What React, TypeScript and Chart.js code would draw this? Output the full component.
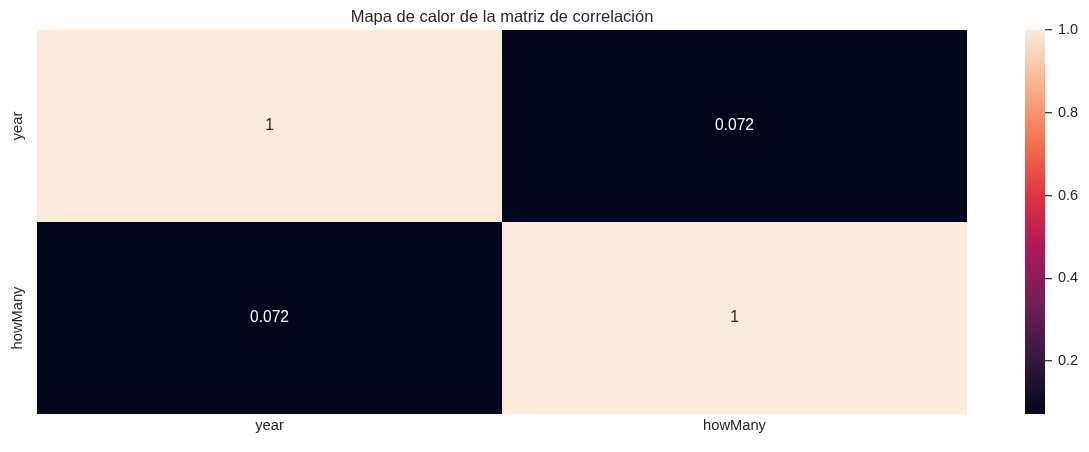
import React, { useEffect, useRef } from "react";
import { Chart, registerables } from "chart.js";

Chart.register(...registerables);

const title = "Mapa de calor de la matriz de correlación";
const xLabels = ["year", "howMany"];
const yLabels = ["year", "howMany"];
const corrYear = [1, 0.072];
const corrHowMany = [0.072, 1];
const corrRows = [corrYear, corrHowMany];
const colorbarTicks = [0.2, 0.4, 0.6, 0.8, 1.0];

// seaborn "rocket" colormap stops
const rocketStops: [number, string][] = [
  [0.0, "#03051a"],
  [0.143, "#35193e"],
  [0.286, "#701f57"],
  [0.429, "#ad1759"],
  [0.571, "#e13342"],
  [0.714, "#f37651"],
  [0.857, "#f6b48f"],
  [1.0, "#faebdd"],
];

const FONT = "'Liberation Sans', Arial, Helvetica, sans-serif";
const TEXT = "#262626";

const allVals = corrRows.flat();
const vmin = Math.min(...allVals);
const vmax = Math.max(...allVals);

function hexToRgb(h: string): [number, number, number] {
  const n = parseInt(h.slice(1), 16);
  return [(n >> 16) & 255, (n >> 8) & 255, n & 255];
}

function rocketRgb(t: number): [number, number, number] {
  const u = Math.max(0, Math.min(1, t));
  for (let i = 0; i < rocketStops.length - 1; i++) {
    const [p0, c0] = rocketStops[i];
    const [p1, c1] = rocketStops[i + 1];
    if (u >= p0 && u <= p1) {
      const f = (u - p0) / (p1 - p0);
      const a = hexToRgb(c0);
      const b = hexToRgb(c1);
      return [0, 1, 2].map((k) => Math.round(a[k] + (b[k] - a[k]) * f)) as [number, number, number];
    }
  }
  return hexToRgb(rocketStops[rocketStops.length - 1][1]);
}

function colorFor(v: number) {
  const [r, g, b] = rocketRgb((v - vmin) / (vmax - vmin));
  return `rgb(${r},${g},${b})`;
}

function textColorFor(v: number) {
  const [r, g, b] = rocketRgb((v - vmin) / (vmax - vmin)).map((c) => {
    const s = c / 255;
    return s <= 0.03928 ? s / 12.92 : Math.pow((s + 0.055) / 1.055, 2.4);
  });
  const lum = 0.2126 * r + 0.7152 * g + 0.0722 * b;
  return lum > 0.408 ? TEXT : "#ffffff";
}

function fmt(v: number) {
  return String(Number(v.toPrecision(2)));
}

export default function App() {
  const mainRef = useRef<HTMLCanvasElement>(null);
  const cbRef = useRef<HTMLCanvasElement>(null);

  useEffect(() => {
    const annotPlugin = {
      id: "annot",
      afterDatasetsDraw(chart: any) {
        const ctx = chart.ctx;
        ctx.save();
        ctx.font = `15.6px ${FONT}`;
        ctx.textAlign = "center";
        ctx.textBaseline = "middle";
        chart.data.datasets.forEach((ds: any, di: number) => {
          const meta = chart.getDatasetMeta(di);
          meta.data.forEach((el: any, j: number) => {
            const v = corrRows[di][j];
            const cy = (el.y + el.base) / 2;
            ctx.fillStyle = textColorFor(v);
            ctx.fillText(fmt(v), el.x, cy);
          });
        });
        // y tick labels (rotated)
        const ys = chart.scales.y;
        ctx.font = `14.7px ${FONT}`;
        ctx.fillStyle = TEXT;
        yLabels.forEach((lab, i) => {
          const py = ys.getPixelForValue(i + 0.5);
          ctx.save();
          ctx.translate(chart.chartArea.left - 19.5, py);
          ctx.rotate(-Math.PI / 2);
          ctx.textAlign = "center";
          ctx.textBaseline = "middle";
          ctx.fillText(lab, 0, 0);
          ctx.restore();
        });
        ctx.restore();
      },
    };

    const main = new Chart(mainRef.current!, {
      type: "bar",
      data: {
        labels: xLabels,
        datasets: yLabels.map((row, i) => ({
          label: row,
          data: xLabels.map(() => 1),
          backgroundColor: corrRows[i].map((v) => colorFor(v)),
          borderWidth: 0,
          inflateAmount: 0,
          barPercentage: 1,
          categoryPercentage: 1,
          stack: "s",
        })),
      },
      options: {
        responsive: false,
        animation: false,
        layout: { padding: { left: 0, right: 122, top: 0, bottom: 0 } },
        plugins: {
          legend: { display: false },
          tooltip: { enabled: false },
          title: {
            display: true,
            text: title,
            fullSize: false,
            color: TEXT,
            font: { family: FONT, size: 16.5, weight: "normal" },
            padding: { top: 7.5, bottom: 2.7 },
          },
        },
        scales: {
          x: {
            stacked: true,
            grid: { display: false, drawTicks: false },
            border: { display: false },
            ticks: { color: TEXT, font: { family: FONT, size: 14.7 }, padding: 3 },
            afterFit: (s: any) => {
              s.height = 38;
            },
          },
          y: {
            stacked: true,
            reverse: true,
            min: 0,
            max: yLabels.length,
            grid: { display: false, drawTicks: false },
            border: { display: false },
            ticks: { display: false },
            afterFit: (s: any) => {
              s.width = 37;
            },
          },
        },
      },
      plugins: [annotPlugin],
    } as any);

    const cb = new Chart(cbRef.current!, {
      type: "bar",
      data: {
        labels: ["cb"],
        datasets: [
          {
            data: [[vmin, vmax]],
            borderWidth: 0,
            inflateAmount: 0,
            barPercentage: 1,
            categoryPercentage: 1,
            backgroundColor: (c: any) => {
              const chart = c.chart;
              const a = chart.chartArea;
              if (!a) return rocketStops[0][1];
              const g = chart.ctx.createLinearGradient(0, a.bottom, 0, a.top);
              rocketStops.forEach(([p, col]) => g.addColorStop(p, col));
              return g;
            },
          },
        ],
      },
      options: {
        responsive: false,
        animation: false,
        layout: { padding: { left: 25, right: 0, top: 30, bottom: 38 } },
        plugins: { legend: { display: false }, tooltip: { enabled: false } },
        scales: {
          x: { display: false },
          y: {
            position: "right",
            min: vmin,
            max: vmax,
            border: { display: false },
            grid: {
              display: true,
              drawOnChartArea: false,
              drawTicks: true,
              tickLength: 7,
              color: "#3a3a3a",
              lineWidth: 1.3,
            },
            ticks: {
              color: TEXT,
              font: { family: FONT, size: 14.5 },
              padding: 6,
              callback: (v: any) => Number(v).toFixed(1),
            },
            afterBuildTicks: (s: any) => {
              s.ticks = colorbarTicks.map((v) => ({ value: v }));
            },
            afterFit: (s: any) => {
              s.width = 44;
            },
          },
        },
      },
    } as any);

    return () => {
      main.destroy();
      cb.destroy();
    };
  }, []);

  return (
    <div style={{ position: "fixed", left: 0, top: 0, width: 1089, height: 452, background: "#fff" }}>
      <canvas ref={mainRef} width={1089} height={452} style={{ position: "absolute", left: 0, top: 0 }} />
      <canvas ref={cbRef} width={89} height={452} style={{ position: "absolute", left: 1000, top: 0 }} />
    </div>
  );
}
